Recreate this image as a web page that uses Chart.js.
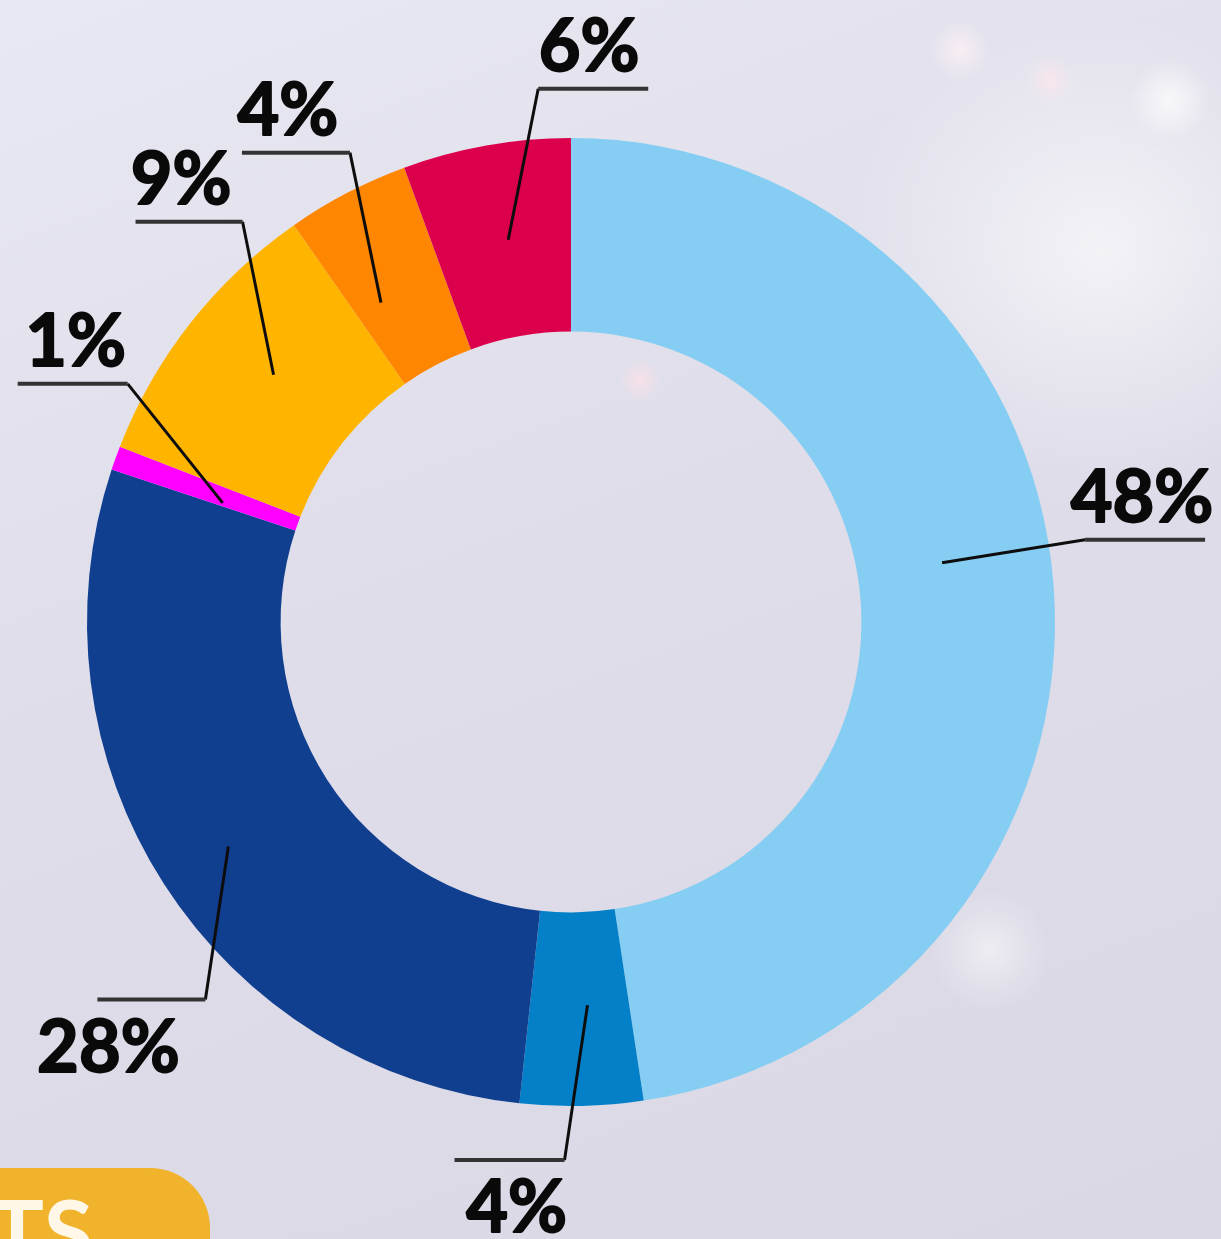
<!DOCTYPE html>
<html>
<head>
<meta charset="utf-8">
<script src="https://cdn.jsdelivr.net/npm/chart.js@4.4.1/dist/chart.umd.min.js"></script>
<style>
	html, body { margin: 0; padding: 0; }
	body {
		width: 1221px; height: 1239px; overflow: hidden; position: relative;
		background:
			radial-gradient(circle at 1170px 100px, rgba(255,255,255,0.7) 0, rgba(255,255,255,0) 40px),
			radial-gradient(circle at 960px 50px, rgba(255,240,245,0.8) 0, rgba(255,255,255,0) 30px),
			radial-gradient(circle at 1050px 80px, rgba(255,230,235,0.7) 0, rgba(255,255,255,0) 25px),
			radial-gradient(circle at 640px 380px, rgba(255,225,230,0.7) 0, rgba(255,255,255,0) 22px),
			radial-gradient(circle at 990px 950px, rgba(255,255,255,0.5) 0, rgba(255,255,255,0) 60px),
			radial-gradient(ellipse at 1100px 250px, rgba(255,255,255,0.6) 0, rgba(255,255,255,0) 260px),
			linear-gradient(160deg, #e8e8f2 0%, #dedde9 45%, #d9d8e4 100%);
	}
	#logo {
		position: absolute; left: -60px; top: 1168px; width: 270px; height: 140px;
		border-radius: 60px; background: #f1b32c;
	}
	#logo span {
		position: absolute; left: 50px; top: 8px; font: bold 90px Lato, sans-serif; color: #fff8e8;
	}
	canvas { position: absolute; left: 0; top: 0; }
</style>
</head>
<body>
<div id="logo"><span>TS</span></div>
<canvas id="chart" width="1221" height="1239"></canvas>
<script>
// slices, clockwise from 12 o'clock (shares)
var labels = ['A', 'B', 'C', 'D', 'E', 'F', 'G'];
var values = [47.6, 4.1, 28.4, 0.8, 9.4, 4.1, 5.6];
var colors = ['#85cdf2', '#0480c8', '#113f8f', '#ff00ff', '#ffb400', '#ff8600', '#dc004c'];

// leader lines: anchor nudge, elbow offset, horizontal run, label side and shift
var leaders = [
	{ ax: -15, ay: -30, dx: 143, dy: -23, run: 120, below: false, shift: -3 },
	{ ax: 8, ay: -4, dx: -23, dy: 155, run: -110, below: true, shift: 7 },
	{ ax: -17, ay: 15, dx: -23, dy: 153, run: -108, below: true, shift: -43 },
	{ ax: 16, ay: 12, dx: -95, dy: -119, run: -110, below: false, shift: 3 },
	{ ax: 7, ay: -8, dx: -31, dy: -153, run: -107, below: false, shift: -8 },
	{ ax: -11, ay: 24, dx: -31, dy: -150, run: -108, below: false, shift: -8 },
	{ ax: 5, ay: -1, dx: 30, dy: -151, run: 110, below: false, shift: -4 }
];

var leaderPlugin = {
	id: 'leaders',
	afterDatasetsDraw: function (chart) {
		var ctx = chart.ctx;
		var meta = chart.getDatasetMeta(0);
		ctx.save();
		ctx.font = 'bold 72px Lato, sans-serif';
		ctx.textAlign = 'center';
		ctx.textBaseline = 'alphabetic';
		ctx.lineJoin = 'round';
		for (var i = 0; i < meta.data.length; i++) {
			var p = meta.data[i].tooltipPosition();
			var l = leaders[i];
			var sx = p.x + l.ax, sy = p.y + l.ay;
			var ex = sx + l.dx, ey = sy + l.dy;
			ctx.strokeStyle = '#0d0d0d';
			ctx.lineWidth = 3;
			ctx.beginPath();
			ctx.moveTo(sx, sy);
			ctx.lineTo(ex, ey);
			ctx.stroke();
			ctx.strokeStyle = '#333';
			ctx.lineWidth = 4;
			ctx.beginPath();
			ctx.moveTo(ex, ey);
			ctx.lineTo(ex + l.run, ey);
			ctx.stroke();
			var tx = ex + l.run / 2 + l.shift;
			var ty = l.below ? ey + 72 : ey - 18;
			var txt = Math.round(values[i]) + '%';
			ctx.fillStyle = '#0a0a0a';
			ctx.strokeStyle = '#0a0a0a';
			ctx.lineWidth = 2;
			ctx.fillText(txt, tx, ty);
			ctx.strokeText(txt, tx, ty);
		}
		ctx.restore();
	}
};

var chart = new Chart(document.getElementById('chart'), {
	type: 'doughnut',
	data: {
		labels: labels,
		datasets: [{
			data: values,
			backgroundColor: colors,
			borderWidth: 0
		}]
	},
	options: {
		responsive: false,
		animation: false,
		cutout: '60%',
		layout: { padding: { left: 87, right: 166, top: 138, bottom: 133 } },
		plugins: {
			legend: { display: false },
			tooltip: { enabled: false }
		}
	},
	plugins: [leaderPlugin]
});
</script>
</body>
</html>
